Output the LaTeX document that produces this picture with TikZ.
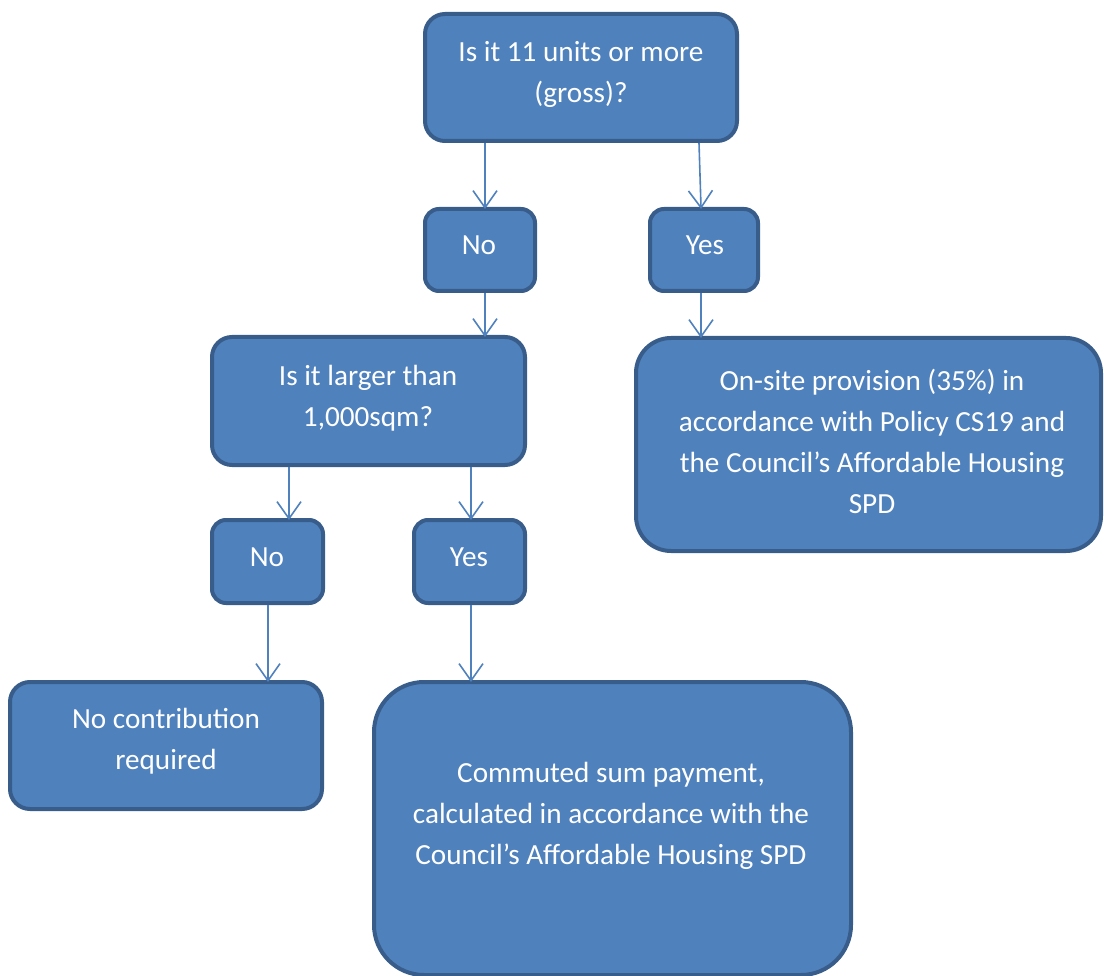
\documentclass[tikz,border=0pt]{standalone}
\usepackage{fontspec}
\setmainfont{Carlito}
\usetikzlibrary{arrows.meta}
\definecolor{boxfill}{HTML}{4F81BD}
\definecolor{boxline}{HTML}{385D8A}
\definecolor{arrline}{HTML}{4F81BD}
\tikzset{
  box/.style={draw=boxline, fill=boxfill, line width=4pt, inner sep=0pt, anchor=center},
  lbl/.style={text=white, align=center, inner sep=0pt, anchor=center, font=\fontsize{29.2pt}{41pt}\selectfont},
  arr/.style={draw=arrline, line width=1.6pt, shorten >=-2pt, -{Straight Barb[length=17pt,width=24pt]}}
}
\begin{document}
\begin{tikzpicture}[x=1pt,y=-1pt]
\useasboundingbox (0,0) rectangle (1104,976);
\clip (0,0) rectangle (1104,976);
% boxes
\node[box, rounded corners=20pt, minimum width=312pt, minimum height=127pt] (top) at (581,77.5) {};
\node[box, rounded corners=14pt, minimum width=110pt, minimum height=82pt] (no1) at (480,250) {};
\node[box, rounded corners=14pt, minimum width=108pt, minimum height=82pt] (yes1) at (704,250) {};
\node[box, rounded corners=20pt, minimum width=313pt, minimum height=128pt] (q2) at (368.5,401) {};
\node[box, rounded corners=35pt, minimum width=465pt, minimum height=213pt] (right) at (868.5,444.5) {};
\node[box, rounded corners=14pt, minimum width=111pt, minimum height=83pt] (no2) at (267.5,561.5) {};
\node[box, rounded corners=14pt, minimum width=111pt, minimum height=83pt] (yes2) at (469.5,561.5) {};
\node[box, rounded corners=20pt, minimum width=312pt, minimum height=127pt] (noc) at (166,745.5) {};
\node[box, rounded corners=50pt, minimum width=477pt, minimum height=293pt] (com) at (612.5,828.5) {};
% labels
\node[lbl] (ttop) at (581,74) {Is it 11 units or more\\(gross)?};
\node[lbl] (tno1) at (479,245) {No};
\node[lbl] (tyes1) at (705,245) {Yes};
\node[lbl] (tq2) at (368,398) {Is it larger than\\1,000sqm?};
\node[lbl] (tright) at (872,441) {On-site provision (35\%) in\\accordance with Policy CS19 and\\the Council’s Affordable Housing\\SPD};
\node[lbl] (tno2) at (267,557) {No};
\node[lbl] (tyes2) at (469,557) {Yes};
\node[lbl] (tnoc) at (166,741) {No contribution\\required};
\node[lbl] (tcom) at (611,816) {Commuted sum payment,\\calculated in accordance with the\\Council’s Affordable Housing SPD};
% connector columns
\coordinate (c1) at (485,0);
\coordinate (c2a) at (699,0);
\coordinate (c2b) at (701,0);
\coordinate (c3) at (289,0);
\coordinate (c4) at (471,0);
\coordinate (c5) at (268,0);
% connectors
\draw[arr] (c1 |- top.south) -- (c1 |- no1.north);
\draw[arr] (c2a |- top.south) -- (c2b |- yes1.north);
\draw[arr] (c1 |- no1.south) -- (c1 |- q2.north);
\draw[arr] (c2b |- yes1.south) -- (c2b |- right.north);
\draw[arr] (c3 |- q2.south) -- (c3 |- no2.north);
\draw[arr] (c4 |- q2.south) -- (c4 |- yes2.north);
\draw[arr] (c5 |- no2.south) -- (c5 |- noc.north);
\draw[arr] (c4 |- yes2.south) -- (c4 |- com.north);
\end{tikzpicture}
\end{document}
